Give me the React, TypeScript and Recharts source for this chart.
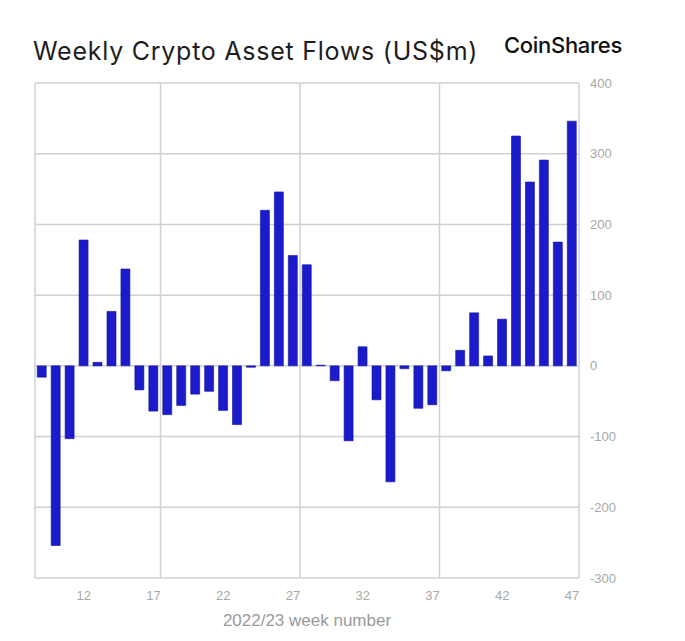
import React from 'react';
import { BarChart, Bar, XAxis, YAxis, CartesianGrid, ReferenceLine } from 'recharts';

// week numbers 9..47 (2022/23)
const weeks = [
  9, 10, 11, 12, 13, 14, 15, 16, 17, 18, 19, 20, 21, 22, 23, 24, 25, 26, 27, 28,
  29, 30, 31, 32, 33, 34, 35, 36, 37, 38, 39, 40, 41, 42, 43, 44, 45, 46, 47,
];

// weekly flows, US$m
const flows = [
  -16, -254, -103, 178, 5, 77, 137, -34, -64, -69, -56, -40, -36, -63, -83, -2, 220, 246, 156, 143,
  1, -21, -106, 27, -48, -164, -4, -60, -55, -7, 22, 75, 14, 66, 325, 260, 291, 175, 346,
];

const weekTicks = [12, 17, 22, 27, 32, 37, 42, 47];
const valueTicks = [-300, -200, -100, 0, 100, 200, 300, 400];
// vertical grid lines sit between weeks
const gridWeeks = [8.5, 17.5, 27.5, 37.5, 47.5];

const chartData = weeks.map((w, i) => ({ week: w, flow: flows[i] }));

const App = () => {
  return (
    <div style={{ position: 'absolute', left: 0, top: 0, width: 685, height: 641, background: '#fff', fontFamily: '"Liberation Sans", Arial, sans-serif' }}>
      <div style={{ position: 'absolute', left: 33, top: 36, fontSize: 25, fontFamily: 'Inter, sans-serif', color: '#1e1e1e', whiteSpace: 'nowrap', letterSpacing: 0.75 }}>
        Weekly Crypto Asset Flows (US$m)
      </div>
      <div style={{ position: 'absolute', left: 504, top: 32, fontSize: 22, fontFamily: 'Inter, sans-serif', fontWeight: 500, color: '#111', letterSpacing: -0.3, whiteSpace: 'nowrap' }}>
        CoinShares
      </div>
      <div style={{ position: 'absolute', left: 0, top: 0 }}>
        <BarChart
          width={685}
          height={641}
          data={chartData}
          margin={{ top: 83, right: 46, bottom: 13, left: 35 }}
          barCategoryGap="16%"
        >
          <CartesianGrid vertical={false} stroke="#d0d0d0" strokeWidth={1.5} />
          <XAxis
            dataKey="week"
            type="category"
            ticks={weekTicks}
            interval={0}
            axisLine={false}
            tickLine={false}
            tickSize={0}
            tickMargin={13}
            height={50}
            tick={{ fontSize: 13, fill: '#a8a8a8' }}
            label={{ value: '2022/23 week number', position: 'insideBottom', offset: 2, fontSize: 17, fill: '#9a9a9a' }}
          />
          <XAxis xAxisId="grid" dataKey="week" type="number" domain={[8.5, 47.5]} allowDataOverflow hide />
          <YAxis
            orientation="right"
            domain={[-300, 400]}
            ticks={valueTicks}
            axisLine={false}
            tickLine={false}
            tickSize={0}
            tickMargin={11}
            width={60}
            tick={{ fontSize: 13, fill: '#a8a8a8', textAnchor: 'start' }}
          />
          {gridWeeks.map((g) => (
            <ReferenceLine key={g} xAxisId="grid" x={g} stroke="#d0d0d0" strokeWidth={1.5} />
          ))}
          <Bar dataKey="flow" fill="#1b1bcb" stroke="#14149a" strokeWidth={0.6} isAnimationActive={false} />
        </BarChart>
      </div>
    </div>
  );
};

export default App;
